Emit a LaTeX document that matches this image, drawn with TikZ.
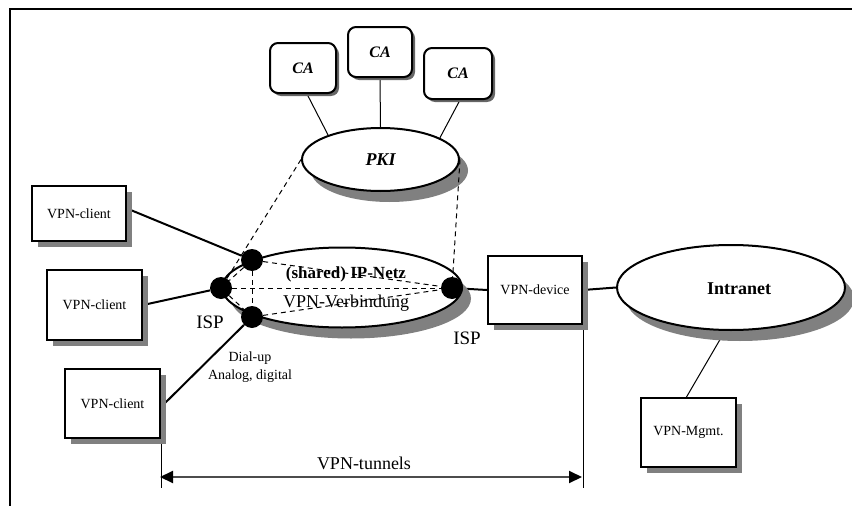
\documentclass[tikz,border=0pt]{standalone}
\usepackage{fontspec}
\setmainfont{Liberation Serif}
\usetikzlibrary{shapes.geometric,shadows,arrows.meta}
\pgfdeclarelayer{bg}
\pgfsetlayers{bg,main}
\begin{document}
\begin{tikzpicture}[x=1pt,y=-1pt,
  box/.style={draw, line width=2pt, fill=white, inner sep=0pt,
    font=\fontsize{14}{16}\selectfont,
    drop shadow={shadow xshift=6pt, shadow yshift=-6pt, fill=black!50, opacity=1}},
  cabox/.style={draw, line width=2pt, fill=white, rounded corners=8pt, inner sep=0pt,
    minimum height=50pt, font=\fontsize{16}{18}\selectfont\bfseries\itshape,
    drop shadow={shadow xshift=3pt, shadow yshift=-3pt, fill=black!60, opacity=1}},
  netcloud/.style={ellipse, draw, line width=2pt, fill=white, inner sep=0pt,
    drop shadow={shadow xshift=9pt, shadow yshift=-11pt, fill=black!50, opacity=1}},
  ispdot/.style={circle, fill=black, minimum size=22pt, inner sep=0pt},
  link/.style={line width=2pt},
  thinlink/.style={line width=1pt},
  tunneldash/.style={dash pattern=on 5pt off 4pt, line width=1pt},
  tunnelarrow/.style={line width=2pt, draw=black!70,
    {Triangle[length=13pt,width=12pt,color=black]}-{Triangle[length=13pt,width=12pt,color=black]}},
  lbl/.style={inner sep=0pt, font=\fontsize{14}{18}\selectfont, align=center}
]
\useasboundingbox (0,0) rectangle (852,506);
% frame
\draw[line width=2.5pt] (10,506) -- (10,9) -- (852,9);

% PKI and CAs
\node[netcloud, minimum width=157pt, minimum height=63pt,
  font=\fontsize{18}{20}\selectfont\bfseries\itshape] (pki) at (380.5,159.5) {PKI};
\node[cabox, minimum width=66pt] (ca1) at (303,68) {CA};
\node[cabox, minimum width=64pt] (ca2) at (380,52) {CA};
\node[cabox, minimum width=68pt, minimum height=51pt] (ca3) at (458,73.5) {CA};

% networks
\node[netcloud, minimum width=240pt, minimum height=80pt] (ipnet) at (342,287.5) {};
\node[netcloud, minimum width=228pt, minimum height=85pt] (intranet) at (731,287.5) {};
\node[inner sep=0pt, font=\fontsize{18}{20}\selectfont\bfseries] (intranetlabel) at (739,289) {Intranet};

% boxes
\node[box, minimum width=94pt, minimum height=55pt] (client1) at (79,213.5) {VPN-client};
\node[box, minimum width=95pt, minimum height=70pt] (client2) at (94.5,305) {VPN-client};
\node[box, minimum width=95pt, minimum height=69pt] (client3) at (112.5,403.5) {VPN-client};
\node[box, minimum width=94pt, minimum height=68pt] (device) at (535,290) {VPN-device};
\node[box, minimum width=95pt, minimum height=69pt] (mgmt) at (688.5,432.5) {VPN-Mgmt.};

% dots
\node[ispdot] (d1) at (252,260) {};
\node[ispdot] (d2) at (221,288) {};
\node[ispdot] (d3) at (252,317) {};
\node[ispdot] (d4) at (452,288) {};

% helper coordinates
\coordinate (tl) at (160,488);
\coordinate (tr) at (582,488);
\coordinate (arrL) at (160,477);
\coordinate (arrR) at (582,477);

\begin{pgfonlayer}{bg}
  \draw[link] ([yshift=5pt]client1.east) -- (d1);
  \draw[link] (client2.east) -- (d2);
  \draw[link] ([yshift=-3.5pt]client3.east) -- (d3);
  \draw[link] (d4) -- (device.west);
  \draw[link] (device.east) -- (intranet.west);
  \draw[thinlink] ([xshift=4pt]ca1.south) -- (pki.155);
  \draw[thinlink] (ca2.south) -- (pki.north);
  \draw[thinlink] ([xshift=2pt]ca3.south) -- (pki.20);
  \draw[thinlink] ([xshift=-6pt]intranet.south) -- ([xshift=-2pt]mgmt.north);
  \draw[thinlink] (client3.south east) -- (client3.south east |- tl);
  \draw[thinlink] (device.south east) -- (device.south east |- tr);
\end{pgfonlayer}

% dashed tunnels
\draw[tunneldash] (pki.west) -- (d2);
\draw[tunneldash] (pki.east) -- (d4);
\draw[tunneldash] (d1) -- (d4);
\draw[tunneldash] (d2) -- (d4);
\draw[tunneldash] (d3) -- (d4);
\draw[tunneldash] (d1) -- (d3);
\draw[tunneldash] (d1) -- (d2);
\draw[tunneldash] (d2) -- (d3);

% labels
\node[inner sep=0pt, font=\fontsize{17}{19}\selectfont\bfseries] (shared) at (346,274) {(shared) IP-Netz};
\node[inner sep=0pt, font=\fontsize{18}{20}\selectfont] (verb) at (346,303) {VPN-Verbindung};
\node[inner sep=0pt, font=\fontsize{19}{21}\selectfont] (ispL) at (210,322) {ISP};
\node[inner sep=0pt, font=\fontsize{19}{21}\selectfont] (ispR) at (467,338) {ISP};
\node[lbl] (dial) at (250,367) {Dial-up\\Analog, digital};

% tunnel arrow
\draw[tunnelarrow] (arrL) -- (arrR);
\node[inner sep=0pt, font=\fontsize{18}{20}\selectfont] (tunnels) at (364,463) {VPN-tunnels};
\end{tikzpicture}
\end{document}
